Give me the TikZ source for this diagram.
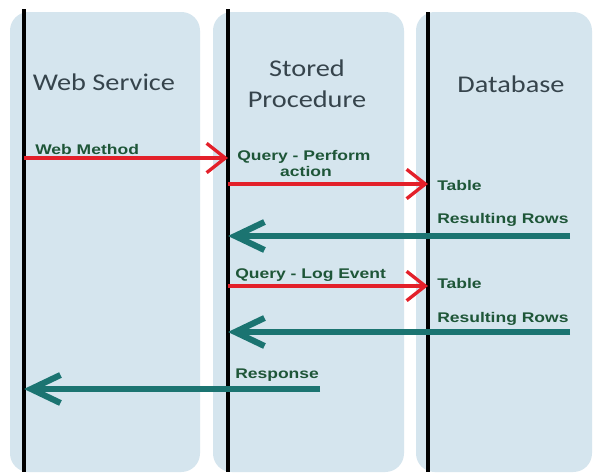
\documentclass[tikz,border=0pt]{standalone}
\usepackage{fontspec}
\setmainfont{Carlito}
\newfontfamily\titlefont[FakeStretch=1.18]{Carlito}
\newfontfamily\lblfont[FakeStretch=1.25]{Liberation Sans}
\usetikzlibrary{arrows.meta}

\definecolor{panelblue}{HTML}{D5E5EE}
\definecolor{callred}{HTML}{E3202A}
\definecolor{replyteal}{HTML}{1B7471}
\definecolor{lblgreen}{HTML}{1E5638}
\definecolor{titlegray}{HTML}{36444C}

\tikzset{
  panel/.style={fill=panelblue, draw=none, rounded corners=14},
  lifeline/.style={draw=black, line width=3pt},
  title/.style={font=\titlefont\fontsize{18}{22}\selectfont, text=titlegray, inner sep=0pt},
  msg/.style={font=\lblfont\bfseries\fontsize{10.5}{12.5}\selectfont, text=lblgreen, inner sep=0pt},
  call/.style={draw=callred, line width=2.5pt,
    -{Straight Barb[length=14pt, width=22pt, line width=2.5pt]}},
  reply/.style={draw=replyteal, line width=4.6pt,
    -{Straight Barb[length=22pt, width=21pt, line width=4.6pt]}},
}

\begin{document}
\begin{tikzpicture}[x=0.75pt, y=-0.75pt]
  \useasboundingbox[fill=white] (0,0) rectangle (594,475);

  % column panels
  \path[panel] (10,12) rectangle (200,472);
  \path[panel] (213,12) rectangle (404,472);
  \path[panel] (416,12) rectangle (592,472);

  % lifelines
  \coordinate (wsTop) at (24,9);   \coordinate (wsBot) at (24,472);
  \coordinate (spTop) at (228,9);  \coordinate (spBot) at (228,472);
  \coordinate (dbTop) at (428,12); \coordinate (dbBot) at (428,472);
  \draw[lifeline] (wsTop) -- (wsBot);
  \draw[lifeline] (spTop) -- (spBot);
  \draw[lifeline] (dbTop) -- (dbBot);

  % column titles
  \node[title, anchor=base] (tws) at (104,90) {Web Service};
  \node[title, anchor=base] (tsp1) at (307,76) {Stored};
  \node[title, anchor=base] (tsp2) at (307,107) {Procedure};
  \node[title, anchor=base] (tdb) at (511,92) {Database};

  % message end points
  \coordinate (m1a) at (24,158);  \coordinate (m1b) at (228,158);
  \coordinate (m2a) at (228,184); \coordinate (m2b) at (428,184);
  \coordinate (m3a) at (570,236); \coordinate (m3b) at (228,236);
  \coordinate (m4a) at (228,286); \coordinate (m4b) at (428,286);
  \coordinate (m5a) at (570,332); \coordinate (m5b) at (228,332);
  \coordinate (m6a) at (320,389); \coordinate (m6b) at (24,389);

  % messages
  \draw[call]  (m1a) -- (m1b);
  \draw[call]  (m2a) -- (m2b);
  \draw[reply] (m3a) -- (m3b);
  \draw[call]  (m4a) -- (m4b);
  \draw[reply] (m5a) -- (m5b);
  \draw[reply] (m6a) -- (m6b);

  % message labels
  \node[msg, anchor=base west] (l1) at (35,154) {Web Method};
  \node[msg, anchor=base west] (l2) at (237,160) {Query - Perform};
  \node[msg, anchor=base] (l2b) at (306,176) {action};
  \node[msg, anchor=base west] (l3) at (437,190) {Table};
  \node[msg, anchor=base west] (l4) at (437,223) {Resulting Rows};
  \node[msg, anchor=base west] (l5) at (235,278) {Query - Log Event};
  \node[msg, anchor=base west] (l6) at (437,288) {Table};
  \node[msg, anchor=base west] (l7) at (437,322) {Resulting Rows};
  \node[msg, anchor=base west] (l8) at (235,378) {Response};
\end{tikzpicture}
\end{document}
